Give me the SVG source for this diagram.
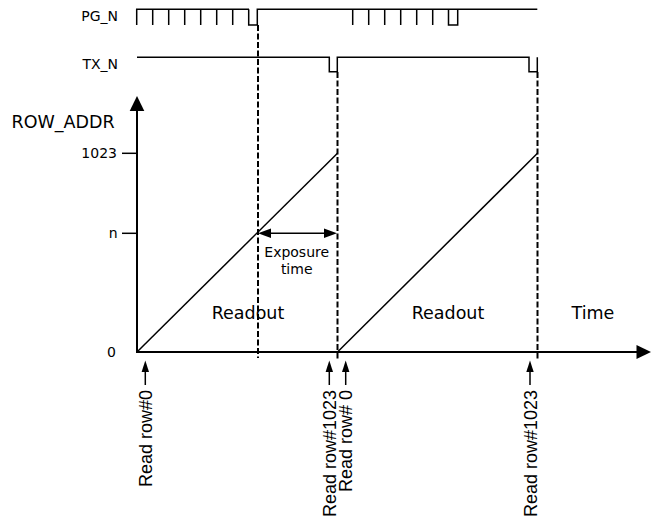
<svg xmlns="http://www.w3.org/2000/svg" width="657" height="523" viewBox="0 0 657 523">
<style>
.wave{fill:none;stroke:#000;stroke-width:1.5;stroke-linejoin:miter}
.ln{fill:none;stroke:#000;stroke-width:1.5}
.axis{fill:none;stroke:#000;stroke-width:2}
.dash{fill:none;stroke:#000;stroke-width:2;stroke-dasharray:6 2.5}
.head{fill:#000;stroke:none}
.sans{font-family:"DejaVu Sans",sans-serif;fill:#000}
.big{font-size:17.5px}
.small{font-size:14px}
.arial{font-family:"Liberation Sans",Arial,sans-serif;font-size:18px;fill:#000}
</style>
<rect width="657" height="523" fill="#fff"/>
<g id="signals">
  <text class="sans small" x="118" y="21" text-anchor="end">PG_N</text>
  <path class="wave" d="M136.7,25V9.3H249M152.7,9.3V25M168.7,9.3V25M184.7,9.3V25M200.7,9.3V25M216.7,9.3V25M232.7,9.3V25M248.7,9.3V25H257.3V9.3H537.3M352.7,9.3V25M368.7,9.3V25M384.7,9.3V25M400.7,9.3V25M416.7,9.3V25M432.7,9.3V25M448.5,9.3V25H457.7V9.3"/>
  <text class="sans small" x="118" y="68.5" text-anchor="end">TX_N</text>
  <path class="wave" d="M137,57.3H329.3V71.7H337.3V57.3H529V71.7H537.3V57.3"/>
</g>
<g id="connectors">
  <line class="dash" x1="258" y1="25" x2="258" y2="358"/>
  <line class="dash" x1="337.5" y1="72" x2="337.5" y2="361"/>
  <line class="dash" x1="537.5" y1="72" x2="537.5" y2="361"/>
</g>
<g id="axes">
  <line class="axis" x1="137" y1="352" x2="137" y2="108"/>
  <polygon class="head" points="137,96 129.7,111 144.3,111"/>
  <line class="axis" x1="136" y1="352" x2="638" y2="352"/>
  <polygon class="head" points="651,352 636.5,345 636.5,359"/>
  <line class="ln" x1="122" y1="153.3" x2="137" y2="153.3"/>
  <line class="ln" x1="122" y1="233.3" x2="137" y2="233.3"/>
  <text class="sans big" x="11.5" y="128">ROW_ADDR</text>
  <text class="sans small" x="117" y="158" text-anchor="end">1023</text>
  <text class="sans small" x="117.5" y="238" text-anchor="end">n</text>
  <text class="sans small" x="116" y="357" text-anchor="end">0</text>
  <text class="sans big" x="571.5" y="319.3">Time</text>
</g>
<g id="ramps">
  <line class="ln" x1="137" y1="352" x2="337.5" y2="153.3"/>
  <line class="ln" x1="337.5" y1="352" x2="537.5" y2="153.3"/>
  <text class="sans big" x="211.7" y="319.3">Readout</text>
  <text class="sans big" x="411.7" y="319.3">Readout</text>
</g>
<g id="exposure">
  <line class="ln" x1="265" y1="233.3" x2="330" y2="233.3"/>
  <polygon class="head" points="258,233.3 271,228.5 271,238.1"/>
  <polygon class="head" points="337,233.3 324,228.5 324,238.1"/>
  <text class="sans small" x="296.7" y="256.5" text-anchor="middle">Exposure</text>
  <text class="sans small" x="296.7" y="274" text-anchor="middle">time</text>
</g>
<g id="label-row0">
  <line class="ln" x1="145.3" y1="385" x2="145.3" y2="370"/>
  <polygon class="head" points="145.3,360.5 141.6,372 149,372"/>
  <text class="arial" transform="translate(152.3,390) rotate(-90)" text-anchor="end">Read row#0</text>
</g>
<g id="label-row1023a">
  <line class="ln" x1="329.3" y1="385" x2="329.3" y2="370"/>
  <polygon class="head" points="329.3,360.5 325.6,372 333,372"/>
  <text class="arial" transform="translate(335.5,390) rotate(-90)" text-anchor="end">Read row#1023</text>
</g>
<g id="label-row0b">
  <line class="ln" x1="345.7" y1="385" x2="345.7" y2="370"/>
  <polygon class="head" points="345.7,360.5 342,372 349.4,372"/>
  <text class="arial" transform="translate(352,390) rotate(-90)" text-anchor="end">Read row# 0</text>
</g>
<g id="label-row1023b">
  <line class="ln" x1="530" y1="385" x2="530" y2="370"/>
  <polygon class="head" points="530,360.5 526.3,372 533.7,372"/>
  <text class="arial" transform="translate(536.7,390) rotate(-90)" text-anchor="end">Read row#1023</text>
</g>
</svg>
